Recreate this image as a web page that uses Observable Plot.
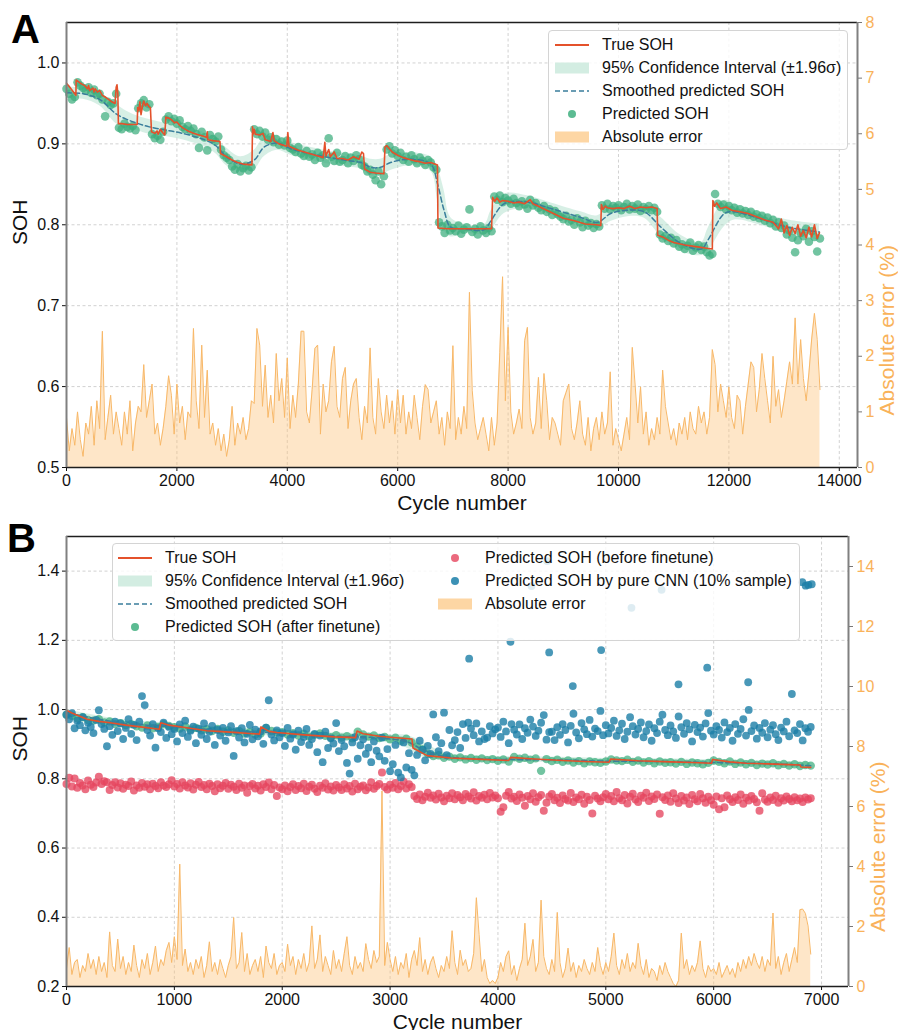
<!DOCTYPE html>
<html>
<head>
<meta charset="utf-8">
<script src="https://cdn.jsdelivr.net/npm/d3@7"></script>
<script src="https://cdn.jsdelivr.net/npm/@observablehq/plot@0.6"></script>
<style>
  html, body { margin: 0; padding: 0; background: #fff; }
  #fig { position: relative; width: 898px; height: 1030px; overflow: hidden;
         font-family: "Liberation Sans", Arial, Helvetica, sans-serif; }
  .layer { position: absolute; left: 0; }
  .tag { position: absolute; font-weight: bold; font-size: 40px; line-height: 1; color: #000; }
  .legend { position: absolute; background: rgba(255,255,255,0.82); border: 1px solid #d4d4d4;
            border-radius: 4px; box-sizing: border-box; }
  .legend .item { position: absolute; height: 16px; display: flex; align-items: center;
                  font-size: 16px; line-height: 16px; white-space: nowrap; color: #111; }
</style>
</head>
<body>
<div id="fig"></div>
<script>
// ---------------- Panel A: long-run cell (~13 650 cycles) ----------------
const stepA = 50;                        // one prediction / error sample every 50 cycles
const trueA = [                          // [cycle, true SOH]
  [0,.975],[60,.970],[150,.962],[170,.960],[175,.979],[250,.975],[330,.972],[380,.968],[400,.972],[420,.966],
  [480,.969],[500,.964],[520,.968],[560,.964],[600,.966],[650,.960],[700,.958],[760,.955],[820,.952],[880,.950],
  [900,.970],[915,.973],[930,.962],[940,.925],[1000,.925],[1100,.924],[1200,.924],[1280,.924],[1290,.945],[1310,.941],
  [1330,.952],[1350,.936],[1380,.948],[1400,.953],[1430,.947],[1460,.950],[1490,.946],[1520,.945],[1540,.915],[1600,.913],
  [1640,.916],[1660,.912],[1700,.918],[1740,.914],[1780,.911],[1800,.933],[1850,.932],[1900,.930],[1960,.926],[2000,.927],
  [2050,.923],[2100,.920],[2200,.916],[2300,.913],[2400,.911],[2500,.909],[2540,.908],[2550,.915],[2560,.905],[2650,.904],
  [2780,.903],[2790,.888],[2900,.884],[3000,.880],[3100,.877],[3200,.875],[3360,.874],[3370,.921],[3380,.912],[3400,.918],
  [3420,.912],[3500,.911],[3560,.913],[3600,.905],[3700,.903],[3740,.914],[3760,.904],[3850,.900],[3990,.897],[4010,.914],
  [4030,.897],[4100,.895],[4200,.892],[4400,.888],[4600,.884],[4650,.883],[4680,.902],[4700,.885],[4750,.893],[4780,.884],
  [4850,.890],[4900,.882],[5000,.882],[5100,.880],[5200,.884],[5300,.881],[5350,.890],[5380,.888],[5400,.869],[5500,.865],
  [5600,.864],[5750,.863],[5770,.896],[5800,.898],[5900,.890],[6000,.886],[6100,.883],[6200,.881],[6300,.879],[6400,.878],
  [6500,.876],[6600,.877],[6720,.874],[6730,.796],[6900,.795],[7200,.795],[7500,.795],[7700,.795],[7720,.834],[7760,.829],
  [7800,.833],[7850,.828],[7900,.830],[8000,.829],[8100,.827],[8200,.828],[8300,.826],[8400,.831],[8450,.826],[8550,.823],
  [8700,.818],[8850,.813],[9000,.808],[9200,.805],[9400,.801],[9600,.800],[9680,.799],[9690,.825],[9720,.819],[9760,.823],
  [9800,.821],[9900,.820],[10000,.821],[10100,.820],[10200,.823],[10300,.820],[10400,.822],[10500,.821],[10600,.822],[10700,.820],
  [10710,.787],[10800,.785],[10900,.781],[11000,.778],[11200,.775],[11400,.773],[11600,.771],[11700,.770],[11710,.830],[11740,.823],
  [11780,.827],[11850,.820],[11950,.822],[12050,.818],[12200,.816],[12350,.814],[12500,.810],[12650,.806],[12800,.803],[12900,.795],
  [12950,.807],[13000,.790],[13050,.799],[13100,.787],[13150,.797],[13200,.789],[13250,.800],[13300,.786],[13350,.793],[13400,.784],
  [13450,.797],[13500,.785],[13550,.800],[13600,.783],[13640,.790]
];
const predSohA = [
  0.968,0.962,0.955,0.958,0.976,0.972,0.969,0.966,0.970,0.963,0.967,0.960,0.962,0.955,0.934,0.952,0.948,0.950,0.962,0.920,
  0.918,0.925,0.921,0.919,0.922,0.917,0.944,0.950,0.954,0.945,0.949,0.912,0.907,0.910,0.905,0.915,0.930,0.934,0.928,0.931,
  0.925,0.929,0.921,0.918,0.922,0.916,0.919,0.912,0.895,0.915,0.908,0.892,0.911,0.906,0.903,0.909,0.893,0.886,0.883,0.880,
  0.872,0.868,0.875,0.866,0.870,0.873,0.867,0.871,0.918,0.912,0.916,0.909,0.914,0.905,0.908,0.902,0.906,0.899,0.903,0.898,
  0.904,0.895,0.893,0.890,0.896,0.888,0.885,0.891,0.884,0.887,0.880,0.889,0.883,0.886,0.876,0.907,0.884,0.879,0.889,0.878,
  0.880,0.885,0.876,0.883,0.879,0.886,0.881,0.874,0.872,0.866,0.868,0.862,0.855,0.866,0.850,0.860,0.893,0.897,0.888,0.892,
  0.885,0.889,0.880,0.884,0.878,0.886,0.881,0.876,0.883,0.879,0.874,0.880,0.877,0.871,0.868,0.803,0.798,0.790,0.800,0.793,
  0.796,0.792,0.799,0.789,0.794,0.797,0.819,0.791,0.795,0.788,0.798,0.793,0.790,0.796,0.792,0.835,0.831,0.836,0.828,0.833,
  0.830,0.826,0.832,0.827,0.823,0.829,0.825,0.820,0.831,0.824,0.827,0.821,0.818,0.823,0.816,0.819,0.812,0.817,0.813,0.810,
  0.807,0.811,0.804,0.806,0.800,0.808,0.803,0.797,0.805,0.799,0.802,0.796,0.801,0.798,0.824,0.820,0.826,0.819,0.823,0.821,
  0.824,0.818,0.822,0.826,0.819,0.823,0.820,0.825,0.817,0.822,0.819,0.823,0.818,0.821,0.816,0.788,0.783,0.786,0.780,0.784,
  0.777,0.781,0.773,0.776,0.770,0.774,0.778,0.768,0.772,0.775,0.769,0.773,0.766,0.762,0.764,0.838,0.826,0.822,0.825,0.819,
  0.823,0.818,0.821,0.815,0.819,0.814,0.817,0.812,0.816,0.810,0.813,0.808,0.811,0.805,0.809,0.802,0.806,0.798,0.803,0.796,
  0.799,0.788,0.793,0.784,0.766,0.781,0.790,0.786,0.795,0.779,0.792,0.785,0.767,0.783
];
const errPctA = [
  0.9,0.3,0.7,0.4,1.0,0.5,0.2,0.8,0.6,1.1,0.4,1.2,0.7,2.45,0.5,0.9,1.3,0.6,1.0,0.7,
  0.4,1.0,0.6,1.2,0.3,0.8,1.1,1.0,1.85,0.9,1.2,1.5,0.6,0.8,0.4,0.7,1.1,1.65,1.3,0.6,
  1.5,0.8,1.1,0.5,1.0,0.9,2.5,1.2,0.7,2.2,0.9,1.75,0.6,0.8,0.4,0.7,0.3,0.6,0.2,0.5,
  1.1,0.4,0.8,0.6,0.9,0.5,0.7,1.2,1.15,2.5,2.2,1.1,1.84,0.9,1.3,0.8,2.05,1.2,1.6,0.9,
  1.97,0.7,1.3,0.9,1.5,2.45,2.45,1.0,0.8,1.4,2.14,2.2,0.6,1.5,1.0,1.2,1.9,2.18,1.1,0.9,
  1.6,1.8,0.7,1.2,1.5,1.6,0.9,0.5,1.1,0.8,2.15,0.9,0.6,1.6,1.0,0.7,1.3,0.8,1.2,0.6,
  1.4,0.8,1.3,0.6,1.0,0.7,1.3,0.9,0.5,1.1,1.49,1.4,0.8,1.0,1.2,0.6,0.9,0.4,1.0,0.7,
  2.19,0.5,0.9,0.6,1.1,0.7,3.15,1.39,0.8,0.5,0.7,0.9,0.6,0.3,0.9,0.4,0.8,2.07,3.43,1.2,
  2.52,1.0,0.6,0.8,1.05,0.7,2.28,2.52,0.9,0.6,0.8,1.62,0.7,1.69,1.2,0.5,0.9,0.8,0.6,0.4,
  1.2,1.35,1.5,0.7,0.5,0.8,1.2,0.6,0.4,0.9,0.3,0.7,0.9,0.5,1.0,0.6,0.8,1.72,0.4,0.7,
  0.5,0.3,0.6,0.9,0.5,2.16,1.5,0.8,1.45,0.6,1.0,0.4,0.7,0.5,0.9,0.6,1.75,1.1,0.8,0.5,
  0.7,0.4,0.8,0.6,0.9,0.5,1.0,0.7,0.6,1.1,0.8,1.0,0.6,0.9,2.12,1.85,1.0,1.5,1.2,0.9,
  1.45,0.9,0.7,1.3,1.2,0.6,1.1,1.5,1.9,1.8,1.0,1.4,2.05,1.6,1.2,0.8,2.0,1.1,1.4,0.9,
  1.2,1.55,1.9,1.5,2.69,1.5,2.3,1.6,1.2,1.7,2.31,2.77,2.3,1.4
];
const smoothCycleA = [0,300,600,900,1100,1300,1500,1800,2100,2500,2700,2900,3150,3400,3580,3820,4060,4540,5030,5330,
  5510,5690,5870,6240,6600,6720,6840,6960,7200,7570,7690,7930,8350,8780,9320,9620,9860,10170,10470,10770,
  11130,11500,11620,11920,12100,12590,13070,13640];
const smoothSohA = [0.963,0.962,0.955,0.937,0.930,0.925,0.921,0.917,0.913,0.905,0.898,0.884,0.875,0.880,0.896,0.901,0.894,0.886,0.880,0.877,
  0.871,0.871,0.877,0.881,0.875,0.851,0.818,0.797,0.795,0.794,0.805,0.826,0.828,0.820,0.809,0.803,0.814,0.818,0.816,0.797,
  0.777,0.770,0.781,0.814,0.816,0.807,0.797,0.791];
const ciHalfA = [0.007,0.007,0.008,0.012,0.010,0.009,0.009,0.008,0.008,0.009,0.010,0.011,0.009,0.012,0.012,0.009,0.008,0.008,0.008,0.008,
  0.010,0.010,0.010,0.008,0.009,0.020,0.025,0.012,0.006,0.006,0.012,0.012,0.008,0.007,0.007,0.008,0.010,0.008,0.008,0.012,
  0.010,0.008,0.014,0.016,0.010,0.008,0.009,0.010];

// ---------------- Panel B: fine-tuned cell (~6 900 cycles) ----------------
const stepB = 25;                        // before-finetune, CNN and error samples
const stepBfine = 50;                    // after-finetune samples
const trueB = [
  [0,.998],[50,.990],[190,.972],[300,.966],[405,.962],[550,.955],[685,.950],[860,.943],[875,.962],[950,.955],
  [1100,.948],[1300,.939],[1400,.937],[1550,.934],[1700,.931],[1790,.929],[1803,.950],[1880,.937],[1950,.934],[2200,.927],
  [2480,.921],[2680,.919],[2694,.938],[2750,.930],[2900,.923],[3000,.920],[3203,.915],[3212,.889],[3343,.867],[3560,.860],
  [3800,.857],[4100,.853],[4117,.862],[4300,.858],[4600,.853],[4800,.850],[5030,.848],[5044,.857],[5300,.852],[5600,.849],
  [5800,.847],[5980,.845],[5990,.856],[6150,.849],[6300,.845],[6500,.843],[6700,.841],[6800,.840],[6810,.834],[6900,.833]
];
const afterSohB = [
  0.985,0.982,0.975,0.978,0.970,0.968,0.972,0.963,0.966,0.958,0.961,0.955,0.958,0.952,0.948,0.954,0.946,0.950,0.958,0.953,
  0.949,0.945,0.951,0.942,0.947,0.940,0.943,0.938,0.944,0.936,0.940,0.933,0.938,0.931,0.935,0.928,0.931,0.947,0.938,0.934,
  0.935,0.928,0.932,0.925,0.930,0.922,0.927,0.931,0.924,0.920,0.926,0.919,0.923,0.917,0.936,0.928,0.922,0.925,0.918,0.921,
  0.914,0.919,0.910,0.916,0.905,0.893,0.885,0.872,0.866,0.868,0.861,0.864,0.858,0.862,0.856,0.860,0.855,0.859,0.854,0.857,
  0.852,0.856,0.850,0.863,0.858,0.861,0.855,0.859,0.823,0.857,0.851,0.855,0.849,0.853,0.847,0.851,0.845,0.850,0.848,0.846,
  0.850,0.856,0.853,0.851,0.855,0.849,0.853,0.847,0.851,0.845,0.850,0.846,0.848,0.844,0.849,0.843,0.847,0.845,0.842,0.846,
  0.853,0.849,0.845,0.850,0.843,0.847,0.842,0.846,0.840,0.844,0.841,0.845,0.839,0.843,0.838,0.842,0.837,0.840,0.838
];
const beforeSohB = [
  0.785,0.803,0.778,0.801,0.774,0.788,0.781,0.770,0.795,0.783,0.776,0.789,0.806,0.785,0.793,0.790,0.768,0.782,0.790,0.775,
  0.787,0.771,0.783,0.779,0.792,0.766,0.781,0.774,0.788,0.777,0.784,0.770,0.786,0.779,0.773,0.790,0.781,0.776,0.784,0.796,
  0.778,0.785,0.772,0.790,0.781,0.775,0.787,0.769,0.783,0.791,0.776,0.782,0.770,0.786,0.779,0.764,0.784,0.773,0.780,0.788,
  0.771,0.783,0.777,0.768,0.786,0.774,0.781,0.760,0.779,0.785,0.772,0.780,0.766,0.784,0.776,0.789,0.770,0.782,0.750,0.775,
  0.770,0.781,0.764,0.776,0.784,0.768,0.779,0.773,0.786,0.765,0.777,0.783,0.771,0.762,0.780,0.774,0.787,0.769,0.778,0.766,
  0.782,0.775,0.768,0.784,0.772,0.779,0.763,0.786,0.770,0.777,0.781,0.767,0.775,0.790,0.771,0.779,0.785,0.818,0.776,0.769,
  0.783,0.774,0.788,0.770,0.779,0.792,0.772,0.784,0.776,0.750,0.742,0.755,0.738,0.748,0.760,0.745,0.752,0.740,0.757,0.746,
  0.735,0.751,0.744,0.758,0.741,0.753,0.747,0.738,0.756,0.749,0.743,0.761,0.737,0.750,0.745,0.754,0.741,0.759,0.746,0.752,
  0.744,0.705,0.718,0.751,0.762,0.743,0.748,0.736,0.755,0.745,0.722,0.750,0.741,0.758,0.734,0.747,0.753,0.708,0.731,0.749,
  0.756,0.738,0.745,0.730,0.752,0.742,0.737,0.759,0.733,0.746,0.741,0.754,0.728,0.748,0.739,0.700,0.751,0.743,0.735,0.747,
  0.756,0.741,0.750,0.735,0.762,0.744,0.738,0.753,0.729,0.748,0.757,0.740,0.733,0.751,0.745,0.760,0.736,0.749,0.742,0.755,
  0.699,0.747,0.739,0.752,0.734,0.758,0.743,0.730,0.750,0.737,0.746,0.727,0.753,0.741,0.735,0.756,0.744,0.731,0.748,0.738,
  0.725,0.749,0.712,0.744,0.718,0.752,0.741,0.733,0.747,0.739,0.755,0.728,0.745,0.737,0.750,0.742,0.732,0.708,0.758,0.740,
  0.734,0.746,0.739,0.751,0.731,0.744,0.737,0.749,0.742,0.735,0.747,0.738,0.743,0.733,0.746,0.740,0.744
];
const cnnSohB = [
  0.985,0.972,0.990,0.946,0.968,0.955,0.978,0.940,0.962,0.950,0.932,0.970,0.998,0.958,0.944,0.894,0.952,0.927,0.965,0.938,
  0.960,0.915,0.947,0.972,0.930,0.956,0.912,0.965,1.039,1.013,0.941,0.925,0.958,0.890,0.946,0.935,0.962,0.918,0.950,0.929,
  0.944,0.908,0.957,0.932,0.968,0.921,0.939,0.951,0.903,0.945,0.927,0.960,0.915,0.936,0.953,0.898,0.941,0.925,0.947,0.910,
  0.934,0.952,0.866,0.938,0.919,0.946,0.905,0.930,0.956,0.914,0.942,0.923,0.937,0.901,0.948,1.027,0.928,0.911,0.940,0.920,
  0.932,0.895,0.947,0.916,0.928,0.884,0.939,0.906,0.921,0.944,0.898,0.915,0.930,0.877,0.925,0.848,0.936,0.889,0.917,0.902,
  0.961,0.880,0.912,0.894,0.846,0.815,0.905,0.920,0.858,0.897,0.914,0.872,0.890,0.848,0.908,0.881,0.865,0.919,0.852,0.886,
  0.822,0.842,0.898,0.818,0.804,0.905,0.833,0.874,0.826,0.810,0.869,0.910,0.884,0.853,0.895,0.872,0.986,0.920,0.880,0.903,
  0.991,0.868,0.941,0.897,0.912,0.935,0.889,0.958,0.918,0.962,0.945,0.926,0.960,0.908,0.937,0.915,0.919,0.952,0.931,0.943,
  0.948,0.921,0.965,0.937,0.903,0.958,0.942,0.928,0.957,0.915,0.946,0.933,0.971,0.951,0.924,0.939,0.962,0.984,0.913,0.935,
  0.936,0.912,0.949,0.927,0.958,0.941,0.905,0.953,0.988,0.934,0.917,0.961,0.943,0.929,0.970,0.922,0.945,0.938,0.996,0.926,
  0.955,0.931,0.947,0.968,0.924,0.940,0.959,0.915,0.936,0.978,0.952,0.928,0.944,0.963,0.920,0.938,0.957,0.910,0.946,0.932,
  0.965,0.985,0.941,0.926,0.954,0.937,0.918,0.980,0.949,0.930,0.961,0.943,0.908,0.956,0.935,0.948,0.922,0.960,0.990,0.939,
  0.928,0.952,0.941,0.919,0.963,0.935,0.947,0.910,0.958,0.930,0.944,0.972,0.925,0.999,0.938,0.954,0.916,0.947,0.933,0.961,
  0.920,0.942,0.955,0.929,0.912,0.948,0.937,0.965,0.923,1.045,0.940,0.932,0.958,0.911,0.946,0.936,0.950
];
const cnnOutliersB = [   // [cycle, SOH] far-off CNN estimates
  [3733,1.147],[4116,1.196],[4311,1.357],[4456,1.429],[4475,1.165],[4694,1.068],[4957,1.172],[5238,1.294],
  [5517,1.346],[5674,1.073],[5940,1.121],[6320,1.079],[6822,1.368],[6853,1.358],[6878,1.360],[6909,1.362]
];
const errPctB = [
  0.6,1.3,0.4,0.8,0.9,0.3,0.7,0.5,1.1,0.6,0.9,0.4,1.0,0.5,0.8,0.3,1.82,0.7,0.5,1.58,
  0.6,1.0,0.4,0.8,0.5,1.38,0.7,0.3,0.9,0.6,1.1,0.4,0.8,1.35,0.5,0.9,0.7,1.2,1.47,0.8,
  1.66,0.9,4.08,0.7,1.25,0.5,0.8,0.4,0.9,0.6,1.0,0.3,0.7,1.49,0.5,0.8,0.4,0.9,0.6,0.3,
  0.7,1.0,2.3,0.6,0.8,1.8,0.5,1.1,0.4,0.7,0.9,0.5,1.0,0.3,1.35,0.8,0.6,1.1,0.4,0.7,
  0.8,0.5,1.41,0.7,1.0,0.4,0.9,0.6,1.1,0.5,0.8,2.02,0.6,0.9,1.72,0.5,1.0,0.7,0.4,1.2,
  0.6,0.9,0.5,1.1,1.66,0.7,0.4,1.0,0.6,0.8,0.5,1.43,0.9,0.6,1.2,0.8,1.0,6.52,0.7,1.47,
  0.9,0.5,1.0,0.4,0.8,0.6,1.1,0.3,0.9,1.2,0.7,1.63,0.5,0.9,0.4,0.8,1.0,0.6,0.3,0.7,
  0.5,1.0,0.6,1.86,0.8,0.4,1.21,0.7,0.9,0.5,0.6,1.1,2.96,1.74,0.5,0.9,0.3,0.1,0.2,0.1,
  0.3,0.8,0.5,1.0,1.19,0.4,0.7,0.2,0.6,0.9,2.11,0.7,1.0,1.57,0.5,0.8,2.88,1.0,0.6,0.4,
  0.9,0.5,2.47,0.8,0.3,0.6,1.28,0.5,0.8,0.3,0.7,0.5,0.9,0.6,0.4,0.8,0.5,1.3,0.7,0.4,
  0.8,0.5,1.0,1.78,0.7,0.4,0.9,0.6,1.1,0.5,0.8,0.6,1.44,0.7,0.4,0.9,0.3,0.6,0.5,0.2,
  0.7,0.4,0.8,0.5,0.3,0.1,0.0,0.2,1.78,0.6,0.9,0.4,0.7,0.5,0.8,1.52,0.6,0.3,0.7,0.5,
  0.6,0.4,0.8,0.3,0.5,0.7,0.4,0.6,0.3,0.8,0.5,0.9,0.6,1.0,0.7,1.1,0.8,0.6,1.0,0.5,
  0.9,0.7,2.45,0.6,1.0,0.4,0.8,1.1,0.5,0.9,1.3,0.8,2.56,2.58,2.44,2.02,1.08
];
const smoothCycleB = [0,250,500,750,1000,1250,1500,1750,2000,2250,2500,2750,3000,3150,3300,3450,3600,4000,4500,5000,5500,6000,6500,6900];
const smoothSohB  = [0.990,0.975,0.962,0.955,0.950,0.944,0.938,0.935,0.932,0.927,0.923,0.921,0.915,0.908,0.885,0.868,0.861,0.856,0.855,0.851,0.850,0.847,0.844,0.838];
const ciHalfB     = [0.010,0.009,0.009,0.009,0.009,0.009,0.009,0.010,0.009,0.009,0.009,0.010,0.012,0.018,0.022,0.014,0.009,0.008,0.008,0.008,0.008,0.008,0.008,0.009];

// ---------------- styling ----------------
const FONT = '"Liberation Sans", Arial, Helvetica, sans-serif';
const RED = "#e4512b", GREEN = "#3cad7d", CI_FILL = "#a6dcc5", DASH = "#3a7e9c";
const ERR_FILL = "#fdc47c", ERR_LINE = "#f8b868", ORANGE = "#f9b25a";
const PINK = "#e6455f", BLUE = "#1b7ea6", GRID = "#c6c6c6";

const sampled = (values, step) => values.map((v, i) => ({cycle: i * step, v}));
const pairs = (list) => list.map(([cycle, v]) => ({cycle, v}));
const band = (xs, ys, hs) => xs.map((cycle, i) => ({cycle, lo: ys[i] - hs[i], hi: ys[i] + hs[i]}));
const fig = document.getElementById("fig");

function place(node, top) {
  const wrap = document.createElement("div");
  wrap.className = "layer";
  wrap.style.top = top + "px";
  wrap.appendChild(node);
  fig.appendChild(wrap);
}

function buildPanel(o) {
  const base = {
    width: 898, height: o.height,
    marginTop: o.mt, marginBottom: o.mb, marginLeft: o.ml, marginRight: o.mr,
    style: {fontFamily: FONT, fontSize: "16px", background: "transparent", color: "#111", overflow: "visible"}
  };
  const gridStyle = {stroke: GRID, strokeOpacity: 1, strokeWidth: 0.8, strokeDasharray: "3,2.5"};
  const main = Plot.plot({
    ...base,
    x: {domain: [0, o.xMax]},
    y: {domain: o.yDomain},
    marks: [
      Plot.gridX(o.xTicks, gridStyle),
      Plot.gridY(o.yTicks, gridStyle),
      ...o.marks,
      Plot.axisX(o.xTicks, {tickSize: 4, tickPadding: 3, tickFormat: "d", label: null}),
      Plot.axisY(o.yTicks, {tickSize: 4, tickPadding: 3, tickFormat: ".1f", label: null}),
      Plot.text(["SOH"], {frameAnchor: "left", dx: -46, rotate: -90, fontSize: 21, fill: "#111"}),
      Plot.text(["Cycle number"], {frameAnchor: "bottom", dy: 42, fontSize: 21, fill: "#111"})
    ]
  });
  const err = Plot.plot({
    ...base,
    x: {domain: [0, o.xMax], axis: null},
    y: {domain: o.eDomain, axis: null},
    marks: [
      Plot.areaY(o.err, {x: "cycle", y: "v", fill: ERR_FILL, fillOpacity: 0.42}),
      Plot.lineY(o.err, {x: "cycle", y: "v", stroke: ERR_LINE, strokeWidth: 1}),
      Plot.ruleY(o.eDomain, {stroke: "#1e1e1e", strokeWidth: 1.3}),
      Plot.ruleX([0, o.xMax], {stroke: "#808080", strokeWidth: 2}),
      Plot.axisY(o.eTicks, {anchor: "right", tickSize: 4, tickPadding: 4, tickFormat: "d",
                            stroke: "#777", fill: ORANGE, label: null}),
      Plot.text(["Absolute error (%)"], {frameAnchor: "right", dx: 30, rotate: -90, fontSize: 21, fill: ORANGE})
    ]
  });
  place(main, o.top);
  place(err, o.top);
}

function swatch(kind, color) {
  let inner;
  if (kind === "line") inner = `<line x1="0" x2="34" y1="8" y2="8" stroke="${color}" stroke-width="1.8"/>`;
  else if (kind === "dash") inner = `<line x1="0" x2="34" y1="8" y2="8" stroke="${color}" stroke-width="1.6" stroke-dasharray="5,3"/>`;
  else if (kind === "patch") inner = `<rect x="0" y="2.5" width="34" height="11" fill="${color}"/>`;
  else inner = `<circle cx="17" cy="8" r="4" fill="${color}"/>`;
  return `<svg width="34" height="16" style="flex:none;margin-right:13px">${inner}</svg>`;
}

function legend(box, items) {
  const el = document.createElement("div");
  el.className = "legend";
  Object.assign(el.style, {left: box.left + "px", top: box.top + "px", width: box.width + "px", height: box.height + "px"});
  for (const it of items) {
    const row = document.createElement("div");
    row.className = "item";
    row.style.left = it.x + "px";
    row.style.top = (it.y - 8) + "px";
    row.innerHTML = swatch(it.kind, it.color);
    const span = document.createElement("span");
    span.textContent = it.label;
    row.appendChild(span);
    el.appendChild(row);
  }
  fig.appendChild(el);
}

function tag(text, left, top) {
  const el = document.createElement("div");
  el.className = "tag";
  el.textContent = text;
  el.style.left = left + "px";
  el.style.top = top + "px";
  fig.appendChild(el);
}

// ---------------- Panel A ----------------
buildPanel({
  top: 0, height: 520, mt: 22, mb: 53, ml: 66, mr: 41,
  xMax: 14330, xTicks: d3.range(0, 14001, 2000),
  yDomain: [0.5, 1.05], yTicks: [0.5, 0.6, 0.7, 0.8, 0.9, 1.0],
  eDomain: [0, 8], eTicks: d3.range(0, 9),
  err: sampled(errPctA, stepA),
  marks: [
    Plot.areaY(band(smoothCycleA, smoothSohA, ciHalfA), {x: "cycle", y1: "lo", y2: "hi", fill: CI_FILL, fillOpacity: 0.45, curve: "catmull-rom"}),
    Plot.dot(sampled(predSohA, stepA), {x: "cycle", y: "v", r: 4.3, fill: GREEN, fillOpacity: 0.72}),
    Plot.line(pairs(smoothCycleA.map((c, i) => [c, smoothSohA[i]])), {x: "cycle", y: "v", stroke: DASH, strokeWidth: 1.5, strokeDasharray: "5,3", curve: "catmull-rom"}),
    Plot.line(pairs(trueA), {x: "cycle", y: "v", stroke: RED, strokeWidth: 1.6})
  ]
});

// ---------------- Panel B ----------------
buildPanel({
  top: 510, height: 520, mt: 26, mb: 44, ml: 66, mr: 50,
  xMax: 7250, xTicks: d3.range(0, 7001, 1000),
  yDomain: [0.2, 1.5], yTicks: [0.2, 0.4, 0.6, 0.8, 1.0, 1.2, 1.4],
  eDomain: [0, 15], eTicks: d3.range(0, 15, 2),
  err: sampled(errPctB, stepB),
  marks: [
    Plot.areaY(band(smoothCycleB, smoothSohB, ciHalfB), {x: "cycle", y1: "lo", y2: "hi", fill: CI_FILL, fillOpacity: 0.45, curve: "catmull-rom"}),
    Plot.dot(sampled(afterSohB, stepBfine), {x: "cycle", y: "v", r: 4.2, fill: GREEN, fillOpacity: 0.72}),
    Plot.dot(sampled(beforeSohB, stepB), {x: "cycle", y: "v", r: 4, fill: PINK, fillOpacity: 0.78}),
    Plot.dot(sampled(cnnSohB, stepB).concat(pairs(cnnOutliersB)), {x: "cycle", y: "v", r: 3.9, fill: BLUE, fillOpacity: 0.8}),
    Plot.line(pairs(smoothCycleB.map((c, i) => [c, smoothSohB[i]])), {x: "cycle", y: "v", stroke: DASH, strokeWidth: 1.5, strokeDasharray: "5,3", curve: "catmull-rom"}),
    Plot.line(pairs(trueB), {x: "cycle", y: "v", stroke: RED, strokeWidth: 1.6})
  ]
});

// ---------------- legends and panel tags ----------------
legend({left: 548, top: 30, width: 300, height: 120}, [
  {kind: "line",  color: RED,       label: "True SOH",                          x: 6, y: 13.5},
  {kind: "patch", color: "#d3ede2", label: "95% Confidence Interval (±1.96σ)",  x: 6, y: 36.5},
  {kind: "dash",  color: DASH,      label: "Smoothed predicted SOH",            x: 6, y: 59.5},
  {kind: "dot",   color: "#5cbb92", label: "Predicted SOH",                     x: 6, y: 82.5},
  {kind: "patch", color: "#fdd6a4", label: "Absolute error",                    x: 6, y: 105.5}
]);
legend({left: 112, top: 543, width: 688, height: 98}, [
  {kind: "line",  color: RED,       label: "True SOH",                             x: 5, y: 13.5},
  {kind: "patch", color: "#d3ede2", label: "95% Confidence Interval (±1.96σ)",     x: 5, y: 36.8},
  {kind: "dash",  color: DASH,      label: "Smoothed predicted SOH",               x: 5, y: 60.1},
  {kind: "dot",   color: "#5cbb92", label: "Predicted SOH (after finetune)",       x: 5, y: 83.4},
  {kind: "dot",   color: "#eb6a7e", label: "Predicted SOH (before finetune)",      x: 325, y: 13.5},
  {kind: "dot",   color: "#3c91b5", label: "Predicted SOH by pure CNN (10% sample)", x: 325, y: 36.8},
  {kind: "patch", color: "#fdd6a4", label: "Absolute error",                       x: 325, y: 60.1}
]);
tag("A", 11, 9);
tag("B", 7, 518);
</script>
</body>
</html>
